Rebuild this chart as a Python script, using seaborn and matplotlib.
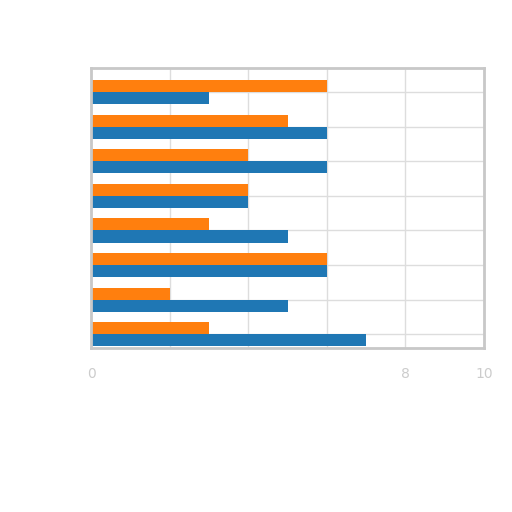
import pandas as pd
import seaborn as sns
import matplotlib.pyplot as plt

categories = ["A", "B", "C", "D", "E", "F", "G", "H"]
series_names = ["Series 1", "Series 2"]
orange_values = [6, 5, 4, 4, 3, 6, 2, 3]
blue_values = [3, 6, 6, 4, 5, 6, 5, 7]
x_ticks = [0, 2, 4, 6, 8, 10]
x_tick_labels = ["0", "", "", "", "8", "10"]

df = pd.DataFrame({
    "category": categories * 2,
    "series": [series_names[0]] * len(categories) + [series_names[1]] * len(categories),
    "value": orange_values + blue_values,
})

sns.set_style("white")
fig = plt.figure(figsize=(5.12, 5.12), dpi=100)
ax = fig.add_axes([91 / 512, (512 - 348) / 512, (484 - 91) / 512, (348 - 68) / 512])

sns.barplot(data=df, y="category", x="value", hue="series", orient="h",
            palette=["#ff7f0e", "#1f77b4"], width=0.7, saturation=1,
            linewidth=0, legend=False, ax=ax)

ax.set_xlim(0, 10)
ax.set_ylim(7.4, -0.7)
ax.set_xticks(x_ticks)
ax.set_xticklabels(x_tick_labels, color="#cccccc", fontsize=10)
ax.set_yticks(range(len(categories)))
ax.set_yticklabels([])
ax.tick_params(length=0, pad=14)
ax.set_axisbelow(True)
ax.grid(True, color="#dddddd", linewidth=1)
for s in ax.spines.values():
    s.set_color("#c8c8c8")
    s.set_linewidth(2)
ax.set_xlabel("")
ax.set_ylabel("")

fig.savefig("out.png", dpi=100)
